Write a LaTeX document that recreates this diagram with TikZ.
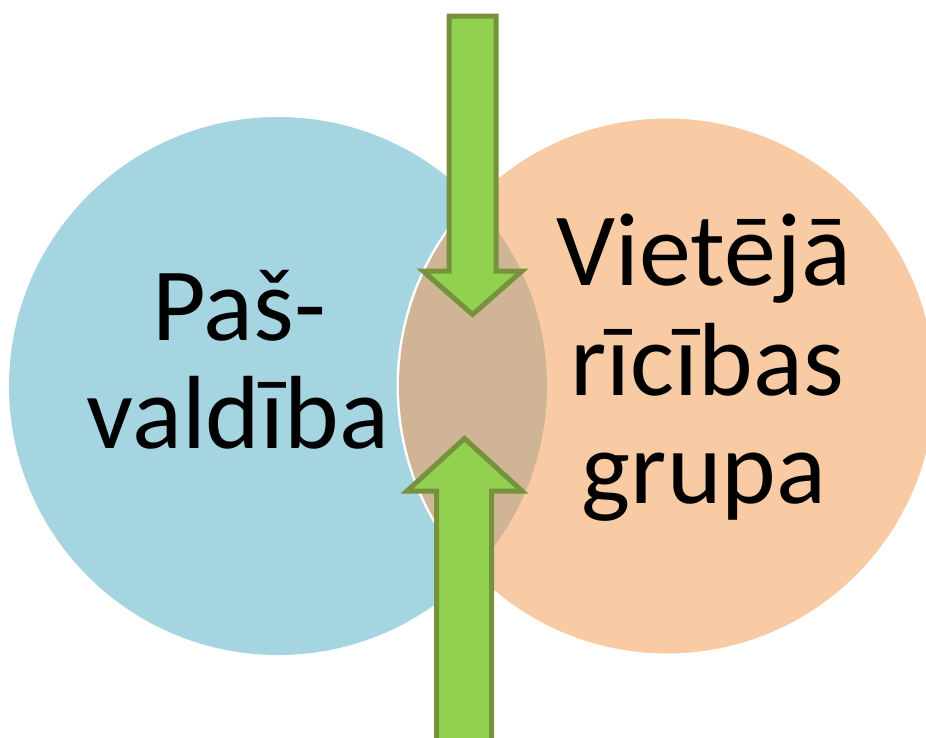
\documentclass[tikz,border=0pt]{standalone}
\usepackage{fontspec}
\setmainfont{Carlito}
\definecolor{blueC}{HTML}{A6D5E2}
\definecolor{orangeC}{HTML}{F9CBA4}
\definecolor{tanC}{HTML}{CFB595}
\definecolor{arrowFill}{HTML}{92D050}
\definecolor{arrowLine}{HTML}{76923C}
\tikzset{
  bigtext/.style={font=\fontsize{104}{108}\selectfont, inner sep=0pt, anchor=base},
  greenarrow/.style={fill=arrowFill, draw=arrowLine, line width=5pt, line join=miter},
}
\begin{document}
\begin{tikzpicture}[x=1pt,y=-1pt]
\useasboundingbox (0,0) rectangle (926,737);
% circles
\node[circle, fill=blueC, minimum size=538pt, inner sep=0pt] (L) at (278,386) {};
\node[circle, fill=orangeC, draw=white, line width=3pt, minimum size=538pt, inner sep=0pt] (R) at (667,386) {};
\begin{scope}
  \clip (278,386) circle (269);
  \fill[tanC] (667,386) circle (268);
\end{scope}
% texts
\node[bigtext] (l1) at (239,340) {Paš-};
\node[bigtext] (l2) at (238,448) {valdība};
\node[bigtext] (r1) at (704,285) {Vietējā};
\node[bigtext] (r2) at (707,395) {rīcības};
\node[bigtext] (r3) at (704,503) {grupa};
% arrows
\draw[greenarrow] (449,16) -- (496,16) -- (496,271) -- (522,271) -- (472.5,314.5) -- (423,271) -- (449,271) -- cycle;
\draw[greenarrow] (436.5,745) -- (436.5,491) -- (407,491) -- (464.5,438.5) -- (522,491) -- (491.5,491) -- (491.5,745) -- cycle;
\end{tikzpicture}
\end{document}
